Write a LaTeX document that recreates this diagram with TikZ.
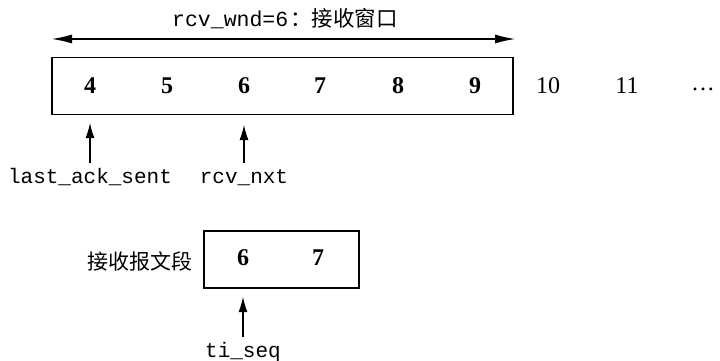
\documentclass[tikz,border=0pt]{standalone}
\usepackage{fontspec}
\setmainfont{Liberation Serif}
\setmonofont{Liberation Mono}
\newfontfamily\cjk{Noto Sans CJK SC}
\usetikzlibrary{arrows.meta}
\begin{document}
\begin{tikzpicture}[x=1pt,y=-1pt,
  num/.style={font=\fontsize{24}{24}\selectfont\bfseries, inner sep=0pt},
  lnum/.style={font=\fontsize{24}{24}\selectfont, inner sep=0pt},
  mono/.style={font=\fontsize{21}{21}\selectfont\ttfamily, inner sep=0pt},
  cn/.style={font=\fontsize{21}{21}\selectfont\cjk, inner sep=0pt},
  box/.style={draw, line width=1.1pt, inner sep=0pt},
  ptr/.style={line width=1.1pt, -{Latex[length=15pt,width=9pt]}},
  wnd/.style={line width=1.1pt, {Latex[length=20pt,width=9pt]}-{Latex[length=20pt,width=9pt]}}
]
\useasboundingbox (0,0) rectangle (720,361);
% main window box
\node[box, minimum width=461pt, minimum height=57pt] (win) at (282.5,86) {};
\node[num] (n4) at (90,86) {4};
\node[num] (n5) at (167,86) {5};
\node[num] (n6) at (244,86) {6};
\node[num] (n7) at (320,86) {7};
\node[num] (n8) at (398,86) {8};
\node[num] (n9) at (475,86) {9};
\node[lnum] (n10) at (548,86) {10};
\node[lnum] (n11) at (627,86) {11};
\node[lnum] (ndots) at (703,89) {.\hspace{2pt}.\hspace{2pt}.};
% window arrow
\coordinate (wl) at (52,39);
\coordinate (wr) at (515,39);
\draw[wnd] (wl) -- (wr);
\node[inner sep=0pt] (wlab) at (285,19) {\fontsize{21.5}{21.5}\selectfont\ttfamily rcv\_wnd=6\cjk{\hspace{2pt}：接收窗口}};
% pointers
\node[mono, anchor=base] (las) at (90,183) {last\_ack\_sent};
\node[mono, anchor=base] (rnx) at (244,183) {rcv\_nxt};
\coordinate (t1) at (90,123);
\coordinate (t2) at (244,125);
\draw[ptr] (las.north |- 0,163) -- (t1);
\draw[ptr] (rnx.north |- 0,163) -- (t2);
% segment
\node[box, minimum width=155pt, minimum height=57pt] (seg) at (281.5,259.5) {};
\node[num] (s6) at (243,258) {6};
\node[num] (s7) at (318,258) {7};
\node[cn, anchor=east] (seglab) at (193,261) {接收报文段};
\node[mono, anchor=base] (tis) at (243,357) {ti\_seq};
\coordinate (t3) at (243,297);
\draw[ptr] (tis.north |- 0,337) -- (t3);
\end{tikzpicture}
\end{document}
